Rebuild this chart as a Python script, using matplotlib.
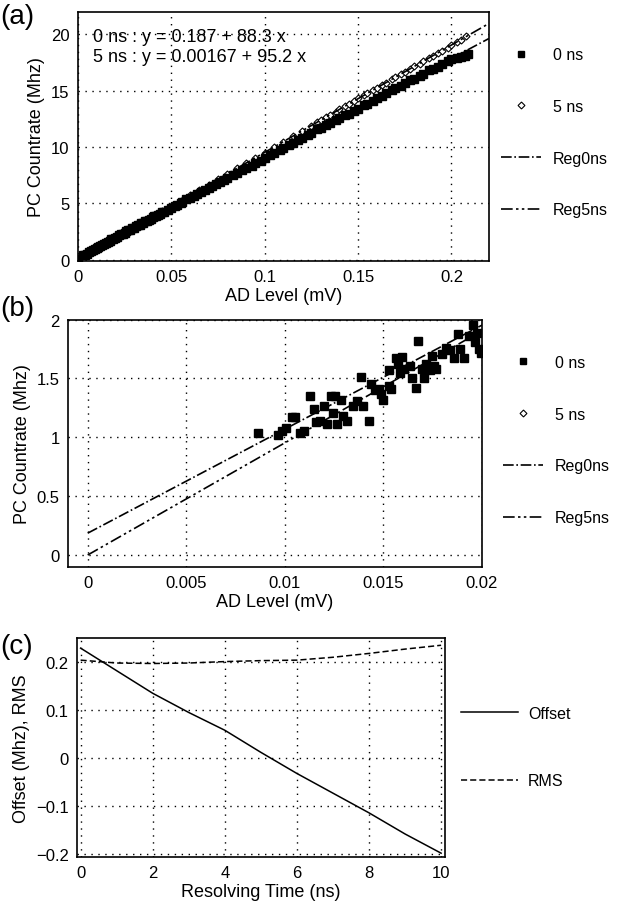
import numpy as np
import matplotlib
matplotlib.use("Agg")
import matplotlib.pyplot as plt
from matplotlib.lines import Line2D

plt.rcParams['font.family'] = ['Liberation Sans', 'DejaVu Sans']
plt.rcParams['axes.unicode_minus'] = True

# panel (a) data: 0 ns (squares) and 5 ns (diamonds)
x0_a = [0.000, 0.003, 0.004, 0.005, 0.006, 0.007, 0.008, 0.009, 0.010, 0.011, 0.012, 0.013, 0.014,
        0.015, 0.016, 0.017, 0.018, 0.019, 0.020, 0.021, 0.022, 0.023, 0.024, 0.025, 0.026,
        0.027, 0.028, 0.029, 0.030, 0.031, 0.032, 0.033, 0.034, 0.035, 0.036, 0.037, 0.038,
        0.039, 0.040, 0.041, 0.042, 0.043, 0.044, 0.045, 0.046, 0.048, 0.050, 0.052, 0.053,
        0.055, 0.056, 0.058, 0.060, 0.062, 0.064, 0.066, 0.068, 0.070, 0.072, 0.074, 0.076,
        0.078, 0.080, 0.083, 0.085, 0.088, 0.090, 0.093, 0.095, 0.098, 0.100, 0.103, 0.105,
        0.108, 0.110, 0.113, 0.115, 0.118, 0.120, 0.123, 0.125, 0.128, 0.130, 0.133, 0.135,
        0.138, 0.140, 0.143, 0.145, 0.148, 0.150, 0.153, 0.155, 0.158, 0.160, 0.163, 0.165,
        0.168, 0.170, 0.173, 0.175, 0.178, 0.180, 0.183, 0.185, 0.188, 0.190, 0.193, 0.195,
        0.198, 0.200, 0.203, 0.205, 0.207, 0.209]
y0_a = [0.05, 0.40, 0.45, 0.55, 0.70, 0.75, 0.85, 0.95, 1.05, 1.10, 1.25, 1.35, 1.40,
        1.50, 1.60, 1.70, 1.80, 1.85, 1.95, 2.05, 2.15, 2.25, 2.30, 2.40, 2.55,
        2.60, 2.65, 2.80, 2.85, 2.95, 3.05, 3.10, 3.25, 3.30, 3.40, 3.45, 3.55,
        3.65, 3.75, 3.85, 3.90, 4.00, 4.10, 4.20, 4.25, 4.40, 4.60, 4.80, 4.85,
        5.00, 5.15, 5.35, 5.50, 5.65, 5.85, 6.05, 6.20, 6.40, 6.55, 6.70, 6.90,
        7.05, 7.25, 7.50, 7.70, 7.95, 8.10, 8.35, 8.60, 8.80, 9.00, 9.30, 9.45,
        9.70, 9.90, 10.15, 10.35, 10.60, 10.80, 11.05, 11.25, 11.55, 11.70, 11.95, 12.10,
        12.40, 12.55, 12.80, 12.95, 13.20, 13.40, 13.70, 13.85, 14.10, 14.30, 14.55, 14.75,
        15.05, 15.20, 15.45, 15.65, 15.90, 16.05, 16.30, 16.50, 16.80, 16.95, 17.10, 17.35,
        17.60, 17.80, 17.90, 18.00, 18.10, 18.20]
x5_a = [0.010, 0.015, 0.020, 0.025, 0.030, 0.035, 0.040, 0.045, 0.050, 0.055, 0.060,
        0.065, 0.070, 0.075, 0.080, 0.085, 0.090, 0.095, 0.100, 0.105, 0.110, 0.115,
        0.120, 0.125, 0.128, 0.130, 0.133, 0.135, 0.138, 0.140, 0.143, 0.145, 0.148,
        0.150, 0.153, 0.155, 0.158, 0.160, 0.163, 0.165, 0.168, 0.170, 0.173, 0.175,
        0.178, 0.180, 0.183, 0.185, 0.188, 0.190, 0.193, 0.195, 0.198, 0.200, 0.203,
        0.205, 0.208]
y5_a = [0.95, 1.45, 1.90, 2.40, 2.85, 3.35, 3.80, 4.30, 4.75, 5.25, 5.70,
        6.20, 6.65, 7.15, 7.60, 8.10, 8.55, 9.05, 9.50, 10.00, 10.45, 10.95,
        11.40, 11.90, 12.20, 12.40, 12.70, 12.85, 13.10, 13.35, 13.65, 13.80, 14.05,
        14.30, 14.60, 14.75, 15.05, 15.25, 15.50, 15.70, 16.00, 16.20, 16.45, 16.65,
        16.95, 17.15, 17.40, 17.60, 17.85, 18.10, 18.35, 18.55, 18.80, 19.05, 19.30,
        19.50, 19.85]

# panel (b) data (zoom on low range)
x0_b = [0.00866, 0.00966, 0.00986, 0.01006, 0.01036, 0.0105, 0.01076, 0.01096, 0.01126,
        0.01146, 0.01156, 0.01176, 0.01196, 0.01216, 0.01236, 0.01246, 0.01256, 0.01266,
        0.01286, 0.01296, 0.01316, 0.01346, 0.01366, 0.01386, 0.01396, 0.01426, 0.01436,
        0.01456, 0.01476, 0.01486, 0.01496, 0.01526, 0.01526, 0.01536, 0.01566, 0.01576,
        0.01586, 0.01596, 0.01606, 0.01636, 0.01646, 0.01666, 0.01676, 0.01696, 0.01706,
        0.01716, 0.01736, 0.01746, 0.01756, 0.01766, 0.01796, 0.01816, 0.01836, 0.01856,
        0.01876, 0.01886, 0.01906, 0.01936, 0.01956, 0.01966, 0.01976, 0.01986, 0.01996]
y0_b = [1.04, 1.02, 1.055, 1.08, 1.17, 1.17, 1.04, 1.055, 1.35,
        1.24, 1.13, 1.14, 1.27, 1.11, 1.35, 1.21, 1.35, 1.11,
        1.32, 1.18, 1.14, 1.27, 1.31, 1.51, 1.27, 1.14, 1.45,
        1.40, 1.41, 1.37, 1.32, 1.44, 1.57, 1.41, 1.67, 1.62,
        1.55, 1.68, 1.58, 1.61, 1.50, 1.42, 1.82, 1.58, 1.50,
        1.62, 1.57, 1.69, 1.61, 1.58, 1.71, 1.76, 1.74, 1.67,
        1.88, 1.75, 1.67, 1.86, 1.95, 1.81, 1.89, 1.75, 1.72]

# regression coefficients (intercept, slope)
reg0 = (0.187, 88.3)
reg5 = (0.00167, 95.2)

# panel (c) data
t_res = [0, 1, 2, 3, 4, 5, 6, 7, 8, 9, 10]
offset = [0.229, 0.182, 0.135, 0.095, 0.058, 0.012, -0.032, -0.073, -0.114, -0.158, -0.198]
rms = [0.204, 0.198, 0.197, 0.198, 0.201, 0.203, 0.204, 0.210, 0.218, 0.227, 0.235]

DASH3 = (0, (7, 2, 1.5, 2, 1.5, 2))
FS_TICK = 12
FS_LAB = 13
FS_LEG = 11.5


def grid(ax):
    ax.grid(True, color='black', linestyle=(0, (1, 4)), linewidth=1.0)
    for s in ax.spines.values():
        s.set_linewidth(1.2)
    ax.tick_params(direction='in', length=0, labelsize=FS_TICK, pad=6)


def scatter_panel(ax, x0, y0, x5, y5, xr, ms, anchor):
    ax.plot(x5, y5, linestyle='none', marker='D', ms=ms * 0.65, mfc='white', mec='black', mew=0.8)
    ax.plot(x0, y0, linestyle='none', marker='s', ms=ms, color='black')
    xx = np.array(xr)
    ax.plot(xx, reg0[0] + reg0[1] * xx, color='black', linestyle='-.', lw=1.2)
    ax.plot(xx, reg5[0] + reg5[1] * xx, color='black', linestyle=DASH3, lw=1.2)
    grid(ax)
    handles = [Line2D([], [], ls='none', marker='s', ms=5, color='black'),
               Line2D([], [], ls='none', marker='D', ms=3.5, mfc='white', mec='black', mew=0.8),
               Line2D([], [], color='black', ls='-.', lw=1.2),
               Line2D([], [], color='black', ls=DASH3, lw=1.2)]
    ax.legend(handles, ['0 ns', '5 ns', 'Reg0ns', 'Reg5ns'], loc='upper left',
              bbox_to_anchor=anchor, frameon=False, fontsize=FS_LEG,
              labelspacing=2.3, handlelength=2.5, handletextpad=0.75)


fig = plt.figure(figsize=(6.18, 9.03), dpi=100)

ax1 = fig.add_axes([0.126, 0.710, 0.665, 0.276])
scatter_panel(ax1, x0_a, y0_a, x5_a, y5_a, [0, 0.22], 5.5, (0.995, 0.915))
ax1.set_xlim(0, 0.22)
ax1.set_ylim(-0.1, 22)
ax1.set_xticks([0, 0.05, 0.1, 0.15, 0.2])
ax1.set_xticklabels(['0', '0.05', '0.1', '0.15', '0.2'])
ax1.set_yticks([0, 5, 10, 15, 20])
ax1.set_xlabel('AD Level (mV)', fontsize=FS_LAB, labelpad=2)
ax1.set_ylabel('PC Countrate (Mhz)', fontsize=FS_LAB)
ax1.text(0.037, 0.935, '0 ns : y = 0.187 + 88.3 x\n5 ns : y = 0.00167 + 95.2 x',
         transform=ax1.transAxes, fontsize=13, va='top', linespacing=1.25)

ax2 = fig.add_axes([0.110, 0.371, 0.670, 0.274])
scatter_panel(ax2, x0_b, y0_b, [], [], [0, 0.02], 5.5, (1.015, 0.915))
ax2.set_xlim(-0.001, 0.02)
ax2.set_ylim(-0.1, 2)
ax2.set_xticks([0, 0.005, 0.01, 0.015, 0.02])
ax2.set_xticklabels(['0', '0.005', '0.01', '0.015', '0.02'])
ax2.set_yticks([0, 0.5, 1, 1.5, 2])
ax2.set_yticklabels(['0', '0.5', '1', '1.5', '2'])
ax2.set_xlabel('AD Level (mV)', fontsize=FS_LAB, labelpad=2)
ax2.set_ylabel('PC Countrate (Mhz)', fontsize=FS_LAB)

ax3 = fig.add_axes([0.1246, 0.0498, 0.595, 0.2425])
ax3.plot(t_res, offset, color='black', lw=1.1, label='Offset')
ax3.plot(t_res, rms, color='black', lw=1.1, ls=(0, (4, 2)), label='RMS')
grid(ax3)
ax3.set_xlim(-0.1, 10.1)
ax3.set_ylim(-0.206, 0.25)
ax3.set_xticks([0, 2, 4, 6, 8, 10])
ax3.set_yticks([-0.2, -0.1, 0, 0.1, 0.2])
ax3.set_yticklabels(['\u22120.2', '\u22120.1', '0', '0.1', '0.2'])
ax3.set_xlabel('Resolving Time (ns)', fontsize=FS_LAB, labelpad=2)
ax3.set_ylabel('Offset (Mhz), RMS', fontsize=FS_LAB)
ax3.legend(loc='upper left', bbox_to_anchor=(1.005, 0.757), frameon=False, fontsize=FS_LEG,
           labelspacing=3.3, handlelength=3.6, handletextpad=0.6)

fig.text(0.0, 0.996, '(a)', fontsize=20, va='top')
fig.text(0.0, 0.672, '(b)', fontsize=20, va='top')
fig.text(0.0, 0.298, '(c)', fontsize=20, va='top')

fig.savefig('out.png', dpi=100)
